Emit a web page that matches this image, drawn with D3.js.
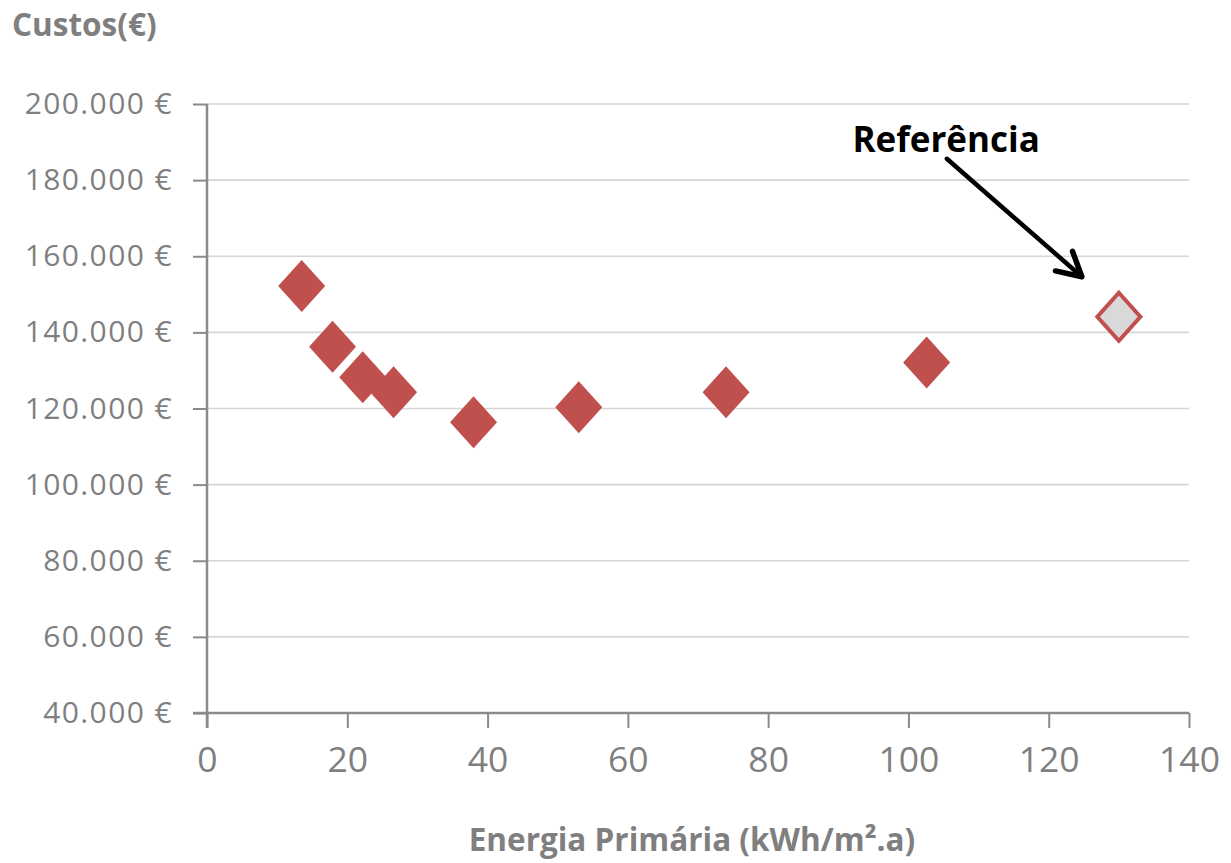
<!DOCTYPE html>
<html>
<head>
<meta charset="utf-8">
<script src="https://cdn.jsdelivr.net/npm/d3@7"></script>
<style>
  html, body { margin: 0; padding: 0; background: #fff; }
  svg { display: block; }
  text { font-family: "Open Sans", "Noto Sans", sans-serif; }
</style>
</head>
<body>
<svg id="chart" width="1231" height="863"></svg>
<script>
// Primary energy (kWh/m².a) vs. global cost (€) for each solution
const energia = [13.5, 17.9, 22.2, 26.6, 38.0, 53.0, 74.0, 102.6];
const custos  = [152200, 136200, 128200, 124300, 116400, 120300, 124300, 132100];

// Reference building
const refEnergia = [130.0];
const refCustos  = [144100];
const refLabel   = "Referência";

const xTicks = [0, 20, 40, 60, 80, 100, 120, 140];
const yTicks = [40000, 60000, 80000, 100000, 120000, 140000, 160000, 180000, 200000];

const yTitle = "Custos(€)";
const xTitle = "Energia Primária (kWh/m².a)";

const W = 1231, H = 863;
const margin = { top: 104, right: 42, bottom: 150, left: 207 };

const svg = d3.select("#chart");

const x = d3.scaleLinear().domain([0, 140]).range([margin.left, W - margin.right]);
const y = d3.scaleLinear().domain([40000, 200000]).range([H - margin.bottom, margin.top]);

const euro = v => d3.format(",")(v).replace(/,/g, ".") + " €";

// horizontal gridlines
svg.append("g")
  .selectAll("line")
  .data(yTicks.filter(t => t > 40000))
  .join("line")
  .attr("x1", x(0)).attr("x2", x(140))
  .attr("y1", d => y(d)).attr("y2", d => y(d))
  .attr("stroke", "#d6d6d6")
  .attr("stroke-width", 1.6);

// y axis
const yAxis = svg.append("g")
  .attr("transform", `translate(${x(0)},0)`)
  .call(d3.axisLeft(y).tickValues(yTicks).tickFormat(euro).tickSize(14).tickPadding(20));

// x axis
const xAxis = svg.append("g")
  .attr("transform", `translate(0,${y(40000)})`)
  .call(d3.axisBottom(x).tickValues(xTicks).tickSize(15).tickPadding(19));

[yAxis, xAxis].forEach(g => {
  g.select(".domain").attr("stroke", "#8a8a8a").attr("stroke-width", 2.5);
  g.selectAll(".tick line").attr("stroke", "#8a8a8a").attr("stroke-width", 2);
  g.selectAll(".tick text").attr("fill", "#7f7f7f").attr("font-family", "Open Sans");
});
yAxis.selectAll(".tick text").attr("font-size", 30).attr("letter-spacing", 1.4);
xAxis.selectAll(".tick text").attr("font-size", 35.5);
// y axis line continues down through the x axis, like the x ticks
yAxis.select(".domain").attr("d", `M0,${y(200000)}V${y(40000) + 15}`);
xAxis.select(".domain").attr("d", `M${x(0) - 14},0H${x(140)}`);

// diamond marker path
const diamond = (cx, cy, hw, hh) =>
  `M${cx},${cy - hh}L${cx + hw},${cy}L${cx},${cy + hh}L${cx - hw},${cy}Z`;

// solutions
svg.append("g")
  .selectAll("path")
  .data(d3.zip(energia, custos))
  .join("path")
  .attr("d", d => diamond(x(d[0]), y(d[1]), 23.5, 26))
  .attr("fill", "#c0504d");

// reference
svg.append("g")
  .selectAll("path")
  .data(d3.zip(refEnergia, refCustos))
  .join("path")
  .attr("d", d => diamond(x(d[0]), y(d[1]), 21.5, 24))
  .attr("fill", "#d9d9d9")
  .attr("stroke", "#c0504d")
  .attr("stroke-width", 4)
  .attr("stroke-linejoin", "miter");

// annotation arrow to the reference point
const rx = x(refEnergia[0]), ry = y(refCustos[0]);
const tip = [rx - 37, ry - 40];
const tail = [rx - 172, ry - 158];
const ang = Math.atan2(tip[1] - tail[1], tip[0] - tail[0]);
const headLen = 27, headAng = 0.5;
const ann = svg.append("g").attr("stroke", "#000").attr("fill", "none")
  .attr("stroke-linecap", "round").attr("stroke-linejoin", "round");
ann.append("line")
  .attr("x1", tail[0]).attr("y1", tail[1])
  .attr("x2", tip[0]).attr("y2", tip[1])
  .attr("stroke-width", 4.5);
ann.append("path")
  .attr("d", `M${tip[0] - headLen * Math.cos(ang - headAng)},${tip[1] - headLen * Math.sin(ang - headAng)}` +
             `L${tip[0]},${tip[1]}` +
             `L${tip[0] - headLen * Math.cos(ang + headAng)},${tip[1] - headLen * Math.sin(ang + headAng)}`)
  .attr("stroke-width", 5.5);

svg.append("text")
  .attr("x", rx - 79).attr("y", ry - 165)
  .attr("text-anchor", "end")
  .attr("font-size", 35)
  .attr("font-weight", "bold")
  .attr("fill", "#000")
  .text(refLabel);

// axis titles
svg.append("text")
  .attr("x", 12).attr("y", 36)
  .attr("font-size", 31.5)
  .attr("font-weight", "bold")
  .attr("fill", "#7f7f7f")
  .text(yTitle);

svg.append("text")
  .attr("x", 692).attr("y", 851)
  .attr("text-anchor", "middle")
  .attr("font-size", 31.5)
  .attr("font-weight", "bold")
  .attr("fill", "#7f7f7f")
  .text(xTitle);
</script>
</body>
</html>
